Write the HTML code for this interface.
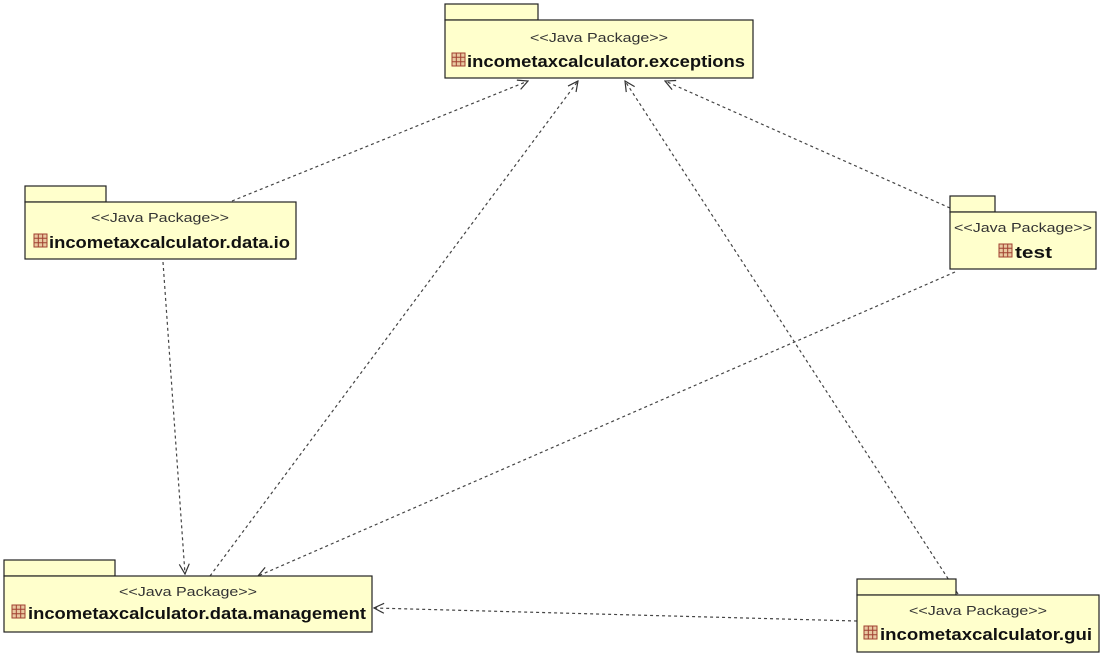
<!DOCTYPE html>
<html><head><style>
body{margin:0;width:1105px;height:657px;background:#fff;overflow:hidden;font-family:"Liberation Sans",sans-serif}
</style></head><body>
<svg width="1105" height="657" viewBox="0 0 1105 657" xmlns="http://www.w3.org/2000/svg">
<defs>
<marker id="a" viewBox="0 0 12 12" refX="11" refY="6" markerWidth="12" markerHeight="12" markerUnits="userSpaceOnUse" orient="auto">
<path d="M1,1 L11,6 L1,11" fill="none" stroke="#333" stroke-width="1.2"/>
</marker>
<g id="ic"><rect x="0" y="0" width="13" height="13" fill="#e8c8a0" stroke="#a04030" stroke-width="1"/><path d="M4.3,0V13M8.7,0V13M0,4.3H13M0,8.7H13" stroke="#a04030" stroke-width="1"/></g>
</defs>
<g stroke="#444" stroke-width="1.2" stroke-dasharray="3,3" fill="none" marker-end="url(#a)">
<line x1="232" y1="201" x2="528" y2="81"/>
<line x1="210" y1="576" x2="578" y2="81"/>
<line x1="958" y1="594" x2="625" y2="81"/>
<line x1="950" y1="208" x2="665" y2="81"/>
<line x1="163" y1="262" x2="185" y2="574"/>
<line x1="955" y1="272" x2="258" y2="576"/>
<line x1="857" y1="621" x2="374" y2="608"/>
</g>
<g fill="#ffffcc" stroke="#222" stroke-width="1.2">
<rect x="445" y="4" width="93" height="16"/><rect x="445" y="20" width="308" height="58"/>
<rect x="25" y="186" width="81" height="16"/><rect x="25" y="202" width="271" height="57"/>
<rect x="950" y="196" width="45" height="16"/><rect x="950" y="212" width="146" height="57"/>
<rect x="4" y="560" width="111" height="16"/><rect x="4" y="576" width="368" height="56"/>
<rect x="857" y="579" width="99" height="16"/><rect x="857" y="595" width="242" height="57"/>
</g>
<g font-size="13" fill="#333" lengthAdjust="spacingAndGlyphs">
<text x="530" y="42" textLength="138" lengthAdjust="spacingAndGlyphs">&lt;&lt;Java Package&gt;&gt;</text>
<text x="91" y="222" textLength="138" lengthAdjust="spacingAndGlyphs">&lt;&lt;Java Package&gt;&gt;</text>
<text x="954" y="232" textLength="138" lengthAdjust="spacingAndGlyphs">&lt;&lt;Java Package&gt;&gt;</text>
<text x="119" y="596" textLength="138" lengthAdjust="spacingAndGlyphs">&lt;&lt;Java Package&gt;&gt;</text>
<text x="909" y="615" textLength="138" lengthAdjust="spacingAndGlyphs">&lt;&lt;Java Package&gt;&gt;</text>
</g>
<g font-size="17" font-weight="bold" fill="#111">
<use href="#ic" x="452" y="53"/><text x="467" y="67" textLength="278" lengthAdjust="spacingAndGlyphs">incometaxcalculator.exceptions</text>
<use href="#ic" x="34" y="234"/><text x="49" y="248" textLength="241" lengthAdjust="spacingAndGlyphs">incometaxcalculator.data.io</text>
<use href="#ic" x="999" y="244"/><text x="1015" y="258" textLength="37" lengthAdjust="spacingAndGlyphs">test</text>
<use href="#ic" x="12" y="605"/><text x="28" y="619" textLength="338" lengthAdjust="spacingAndGlyphs">incometaxcalculator.data.management</text>
<use href="#ic" x="864" y="626"/><text x="880" y="640" textLength="212" lengthAdjust="spacingAndGlyphs">incometaxcalculator.gui</text>
</g>
</svg>
</body></html>
